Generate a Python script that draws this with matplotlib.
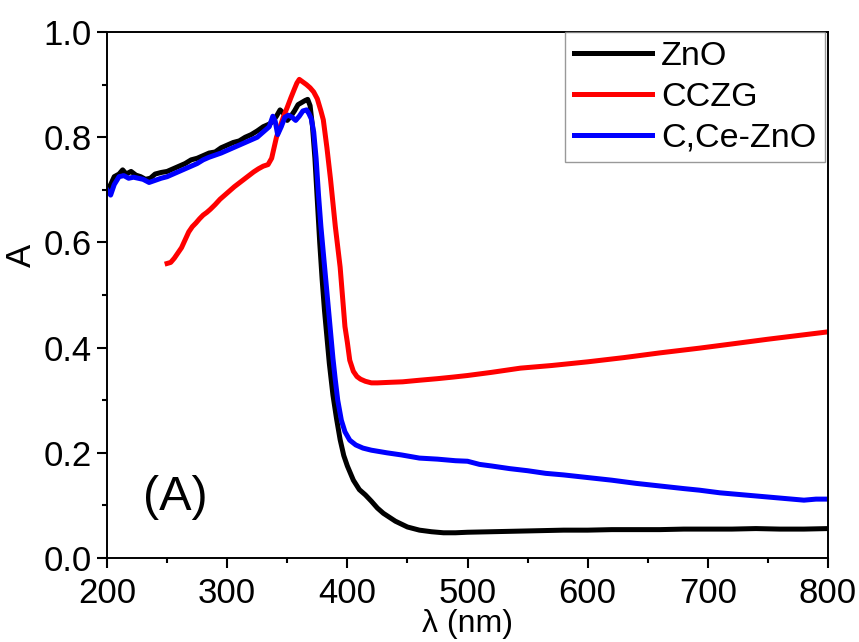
import matplotlib
matplotlib.use("Agg")
import matplotlib.pyplot as plt
from matplotlib.ticker import MultipleLocator

plt.rcParams['font.family'] = ['Liberation Sans', 'DejaVu Sans']

# ZnO (black)
zno_wl = [200, 203, 206, 210, 213, 216, 220, 224, 228, 232, 236, 240, 245, 250, 255,
          260, 265, 270, 275, 280, 285, 290, 295, 300, 305, 310, 315, 320, 325, 330,
          335, 338, 341, 344, 347, 350, 353, 356, 359, 362, 365, 367, 369, 371, 373,
          375, 377, 379, 381, 383, 385, 388, 391, 394, 397, 400, 405, 410, 415, 420,
          425, 430, 440, 450, 460, 470, 480, 490, 500, 520, 540, 560, 580, 600, 620,
          640, 660, 680, 700, 720, 740, 760, 780, 800]
zno_a = [0.70, 0.71, 0.725, 0.73, 0.738, 0.73, 0.735, 0.728, 0.725, 0.72, 0.722, 0.73,
         0.733, 0.735, 0.74, 0.745, 0.75, 0.757, 0.76, 0.765, 0.77, 0.772, 0.78, 0.785,
         0.79, 0.793, 0.80, 0.805, 0.812, 0.82, 0.825, 0.83, 0.84, 0.852, 0.845, 0.832,
         0.84, 0.85, 0.862, 0.866, 0.87, 0.872, 0.86, 0.82, 0.76, 0.68, 0.60, 0.53,
         0.47, 0.42, 0.37, 0.31, 0.265, 0.225, 0.195, 0.175, 0.148, 0.13, 0.12, 0.108,
         0.095, 0.085, 0.070, 0.059, 0.053, 0.050, 0.048, 0.048, 0.049, 0.050, 0.051,
         0.052, 0.053, 0.053, 0.054, 0.054, 0.054, 0.055, 0.055, 0.055, 0.056, 0.055,
         0.055, 0.056]

# CCZG (red)
cczg_wl = [250, 253, 256, 259, 262, 265, 268, 271, 274, 277, 280, 283, 286, 290, 294,
           298, 302, 306, 310, 314, 318, 322, 326, 330, 334, 337, 339, 341, 344, 347,
           350, 353, 356, 358, 360, 363, 366, 369, 372, 375, 378, 380, 383, 386, 390,
           394, 398, 400, 402, 405, 408, 411, 415, 420, 425, 435, 446, 460, 475, 488,
           500, 520, 544, 570, 600, 630, 660, 693, 720, 750, 775, 800]
cczg_a = [0.56, 0.562, 0.57, 0.58, 0.59, 0.605, 0.62, 0.63, 0.637, 0.645, 0.652, 0.657,
          0.663, 0.672, 0.682, 0.69, 0.698, 0.706, 0.713, 0.72, 0.727, 0.734, 0.74,
          0.745, 0.748, 0.76, 0.78, 0.80, 0.82, 0.84, 0.857, 0.875, 0.892, 0.903, 0.91,
          0.905, 0.90, 0.894, 0.886, 0.873, 0.85, 0.833, 0.78, 0.72, 0.63, 0.553, 0.44,
          0.41, 0.376, 0.355, 0.345, 0.34, 0.336, 0.333, 0.333, 0.334, 0.335, 0.338,
          0.341, 0.344, 0.347, 0.353, 0.361, 0.366, 0.373, 0.381, 0.39, 0.399, 0.407,
          0.416, 0.423, 0.43]

# C,Ce-ZnO (blue)
cce_wl = [200, 203, 206, 210, 214, 218, 222, 226, 230, 235, 240, 245, 250, 255, 260,
          265, 270, 275, 280, 285, 290, 295, 300, 305, 310, 315, 320, 325, 330, 335,
          338, 340, 342, 345, 348, 351, 354, 357, 360, 363, 366, 368, 370, 372, 374,
          376, 378, 380, 382, 384, 386, 388, 390, 392, 395, 398, 402, 407, 413, 420,
          433, 445, 460, 475, 490, 500, 510, 520, 535, 550, 565, 580, 600, 620, 640,
          660, 680, 693, 710, 730, 750, 765, 780, 790, 800]
cce_a = [0.70, 0.69, 0.71, 0.725, 0.727, 0.722, 0.724, 0.722, 0.72, 0.714, 0.718, 0.722,
         0.725, 0.73, 0.735, 0.74, 0.745, 0.75, 0.757, 0.762, 0.766, 0.77, 0.775, 0.78,
         0.785, 0.79, 0.795, 0.80, 0.81, 0.82, 0.84, 0.83, 0.805, 0.82, 0.838, 0.842,
         0.838, 0.832, 0.84, 0.85, 0.852, 0.845, 0.835, 0.81, 0.76, 0.69, 0.63, 0.58,
         0.53, 0.48, 0.43, 0.38, 0.338, 0.30, 0.262, 0.24, 0.224, 0.215, 0.209, 0.205,
         0.200, 0.196, 0.19, 0.188, 0.185, 0.184, 0.178, 0.175, 0.17, 0.166, 0.161,
         0.158, 0.153, 0.148, 0.142, 0.137, 0.132, 0.129, 0.124, 0.12, 0.116, 0.113,
         0.11, 0.112, 0.112]

fig = plt.figure(figsize=(8.59, 6.42), dpi=100)
ax = fig.add_axes([0.1246, 0.1308, 0.8393, 0.8193])

ax.plot(zno_wl, zno_a, color='black', linewidth=3.6, label='ZnO')
ax.plot(cczg_wl, cczg_a, color='red', linewidth=3.6, label='CCZG')
ax.plot(cce_wl, cce_a, color='blue', linewidth=3.6, label='C,Ce-ZnO')

ax.set_xlim(200, 800)
ax.set_ylim(0.0, 1.0)
ax.xaxis.set_major_locator(MultipleLocator(100))
ax.xaxis.set_minor_locator(MultipleLocator(50))
ax.yaxis.set_major_locator(MultipleLocator(0.2))
ax.yaxis.set_minor_locator(MultipleLocator(0.1))
ax.yaxis.set_major_formatter(matplotlib.ticker.FormatStrFormatter('%.1f'))
ax.tick_params(which='both', direction='out', width=1.5, labelsize=25,
               top=False, right=False)
ax.tick_params(axis='x', which='major', pad=7)
ax.tick_params(axis='y', which='major', pad=4)
ax.tick_params(which='major', length=7)
ax.tick_params(which='minor', length=3.5)
for s in ax.spines.values():
    s.set_linewidth(1.4)

ax.set_xlabel('λ (nm)', fontsize=23, labelpad=-1)
ax.set_ylabel('A', fontsize=25)
ax.yaxis.set_label_coords(-0.096, 0.576)

ax.text(0.095, 0.115, '(A)', transform=ax.transAxes, fontsize=35,
        ha='center', va='center')

leg = ax.legend(loc='upper right', bbox_to_anchor=(0.996, 1.0), fontsize=24.5,
                frameon=True, fancybox=False, edgecolor='gray', borderaxespad=0,
                handlelength=2.3, handletextpad=0.27, labelspacing=0.3,
                borderpad=0.25)
leg.get_frame().set_linewidth(1.0)

plt.savefig('out.png')
